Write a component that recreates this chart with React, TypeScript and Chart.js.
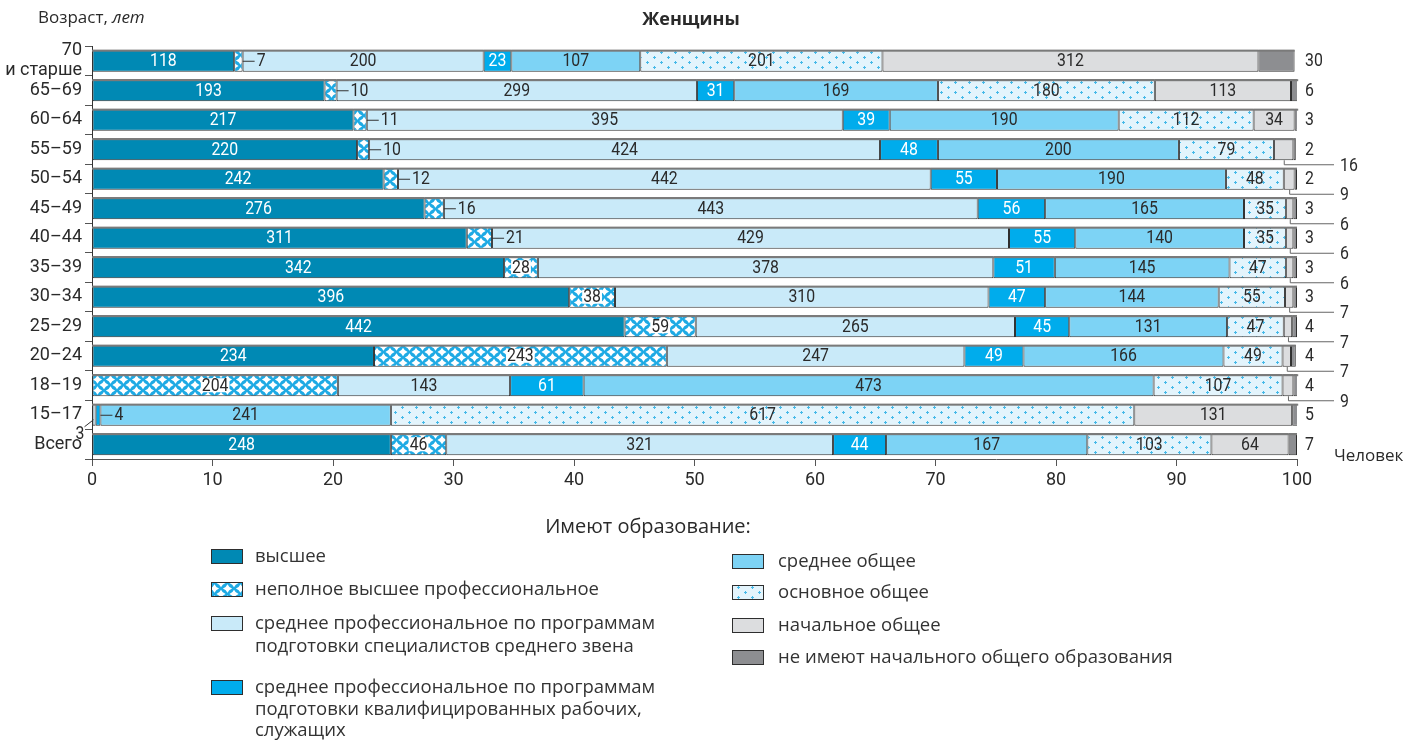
import React, { useEffect, useRef } from "react";
import { Chart, registerables } from "chart.js";
Chart.register(...registerables);

// ---- DATA (per 1000 women) ----
const ageGroups: (string | string[])[] = [
  ["70", "и старше"], "65–69", "60–64", "55–59", "50–54", "45–49", "40–44",
  "35–39", "30–34", "25–29", "20–24", "18–19", "15–17", "Всего",
];
const higher = [118, 193, 217, 220, 242, 276, 311, 342, 396, 442, 234, 0, 0, 248];
const incompleteHigher = [7, 10, 11, 10, 12, 16, 21, 28, 38, 59, 243, 204, 0, 46];
const midSpecialists = [200, 299, 395, 424, 442, 443, 429, 378, 310, 265, 247, 143, 3, 321];
const midWorkers = [23, 31, 39, 48, 55, 56, 55, 51, 47, 45, 49, 61, 4, 44];
const secondaryGeneral = [107, 169, 190, 200, 190, 165, 140, 145, 144, 131, 166, 473, 241, 167];
const basicGeneral = [201, 180, 112, 79, 48, 35, 35, 47, 55, 47, 49, 107, 617, 103];
const primaryGeneral = [312, 113, 34, 16, 9, 6, 6, 6, 7, 7, 7, 9, 131, 64];
const noEducation = [30, 6, 3, 2, 2, 3, 3, 3, 3, 4, 4, 4, 5, 7];
const xTickValues = [0, 10, 20, 30, 40, 50, 60, 70, 80, 90, 100];

const seriesNames: string[][] = [
  ["высшее"],
  ["неполное высшее профессиональное"],
  ["среднее профессиональное по программам", "подготовки специалистов среднего звена"],
  ["среднее профессиональное по программам", "подготовки квалифицированных рабочих,", "служащих"],
  ["среднее общее"],
  ["основное общее"],
  ["начальное общее"],
  ["не имеют начального общего образования"],
];
const allSeries = [higher, incompleteHigher, midSpecialists, midWorkers, secondaryGeneral, basicGeneral, primaryGeneral, noEducation];

const NARROW = 'Roboto, "Liberation Sans", sans-serif';
const HUMAN = '"Open Sans", "Noto Sans", sans-serif';
const TEXT = "#2a2a2a";
const BORDER = "#2e2e2e";
const SQUEEZE = 0.88;

function makeCross(): CanvasPattern | string {
  const c = document.createElement("canvas");
  c.width = 13; c.height = 11;
  const g = c.getContext("2d");
  if (!g) return "#8fd3f2";
  g.fillStyle = "#1eaae4";
  g.fillRect(0, 0, 13, 11);
  g.fillStyle = "#ffffff";
  const blob = (x: number, y: number) => {
    g.beginPath();
    g.moveTo(x, y - 4.2);
    g.quadraticCurveTo(x + 1.2, y - 1.2, x + 4.6, y);
    g.quadraticCurveTo(x + 1.2, y + 1.2, x, y + 4.2);
    g.quadraticCurveTo(x - 1.2, y + 1.2, x - 4.6, y);
    g.quadraticCurveTo(x - 1.2, y - 1.2, x, y - 4.2);
    g.fill();
  };
  blob(6.5, 5.5);
  blob(0, 0); blob(13, 0); blob(0, 11); blob(13, 11);
  return g.createPattern(c, "repeat") || "#8fd3f2";
}
function makeDots(): CanvasPattern | string {
  const c = document.createElement("canvas");
  c.width = 14; c.height = 10;
  const g = c.getContext("2d");
  if (!g) return "#e2f4fc";
  g.fillStyle = "#e3f4fc";
  g.fillRect(0, 0, 14, 10);
  g.fillStyle = "#45b9e8";
  const plus = (x: number, y: number) => {
    g.fillRect(x - 1, y, 3, 1);
    g.fillRect(x, y - 1, 1, 3);
  };
  plus(3, 2);
  plus(10, 7);
  return g.createPattern(c, "repeat") || "#e2f4fc";
}

export default function App() {
  const ref = useRef<HTMLCanvasElement | null>(null);
  useEffect(() => {
    document.body.style.margin = "0";
    const canvas = ref.current;
    if (!canvas) return;
    const cross = makeCross();
    const dots = makeDots();
    const fills: (string | CanvasPattern)[] = ["#0089b4", cross, "#c9eaf9", "#00acec", "#7dd3f5", dots, "#dcdddf", "#8d8e91"];

    const squeezed = (ctx: CanvasRenderingContext2D, txt: string, x: number, y: number, align: "left" | "right" | "center") => {
      ctx.save();
      ctx.translate(x, y);
      ctx.scale(SQUEEZE, 1);
      ctx.textAlign = align;
      ctx.fillText(txt, 0, 0);
      ctx.restore();
    };

    const labelPlugin = {
      id: "segLabels",
      afterDatasetsDraw(chart: any) {
        const ctx = chart.ctx as CanvasRenderingContext2D;
        const area = chart.chartArea;
        ctx.save();
        ctx.textBaseline = "middle";
        // gray top edge of every bar
        const firstMeta = chart.getDatasetMeta(0);
        firstMeta.data.forEach((bar: any, i: number) => {
          const p = bar.getProps(["y", "height"], true);
          const total = allSeries.reduce((s, arr) => s + arr[i], 0) / 10;
          const xr = chart.scales.x.getPixelForValue(total);
          ctx.fillStyle = "#7a7a7a";
          ctx.fillRect(area.left, p.y - p.height / 2, xr - area.left, 2);
        });
        allSeries.forEach((series, di) => {
          const meta = chart.getDatasetMeta(di);
          meta.data.forEach((bar: any, i: number) => {
            const v = series[i];
            if (!v) return;
            const p = bar.getProps(["x", "y", "base"], true);
            const left = Math.min(p.base, p.x);
            const right = Math.max(p.base, p.x);
            const cx = (left + right) / 2;
            const y = p.y;
            const txt = String(v);
            ctx.strokeStyle = "#333";
            ctx.lineWidth = 1;
            ctx.font = `18px ${NARROW}`;
            if (di === 7) {
              ctx.fillStyle = TEXT;
              squeezed(ctx, txt, area.right + 8, y + 1, "left");
              return;
            }
            if (di === 6 && v < 25) {
              ctx.beginPath();
              ctx.moveTo(cx + 0.5, y + 11);
              ctx.lineTo(cx + 0.5, y + 15.5);
              ctx.lineTo(area.right + 37, y + 15.5);
              ctx.strokeStyle = "#666";
              ctx.stroke();
              ctx.fillStyle = TEXT;
              squeezed(ctx, txt, area.right + 43, y + 17, "left");
              return;
            }
            if ((di === 1 && v < 25) || (di === 3 && v < 10)) {
              ctx.beginPath();
              ctx.moveTo(right, y + 0.5);
              ctx.lineTo(right + 12, y + 0.5);
              ctx.stroke();
              ctx.fillStyle = TEXT;
              squeezed(ctx, txt, right + 14, y + 1, "left");
              return;
            }
            if (di === 2 && v < 25) {
              ctx.beginPath();
              ctx.moveTo(left + 1, y + 5);
              ctx.lineTo(left - 8, y + 12);
              ctx.stroke();
              ctx.fillStyle = TEXT;
              squeezed(ctx, txt, left - 8, y + 20, "right");
              return;
            }
            if (di === 1) {
              const w = ctx.measureText(txt).width * SQUEEZE;
              ctx.fillStyle = "#ffffff";
              ctx.fillRect(cx - w / 2 - 1, y - 7, w + 2, 14);
            }
            ctx.fillStyle = di === 0 || di === 3 ? "#ffffff" : TEXT;
            squeezed(ctx, txt, cx, y + 1, "center");
          });
        });
        ctx.restore();
      },
    };

    const decorPlugin = {
      id: "decor",
      afterDraw(chart: any) {
        const ctx = chart.ctx as CanvasRenderingContext2D;
        ctx.save();
        ctx.textBaseline = "middle";
        ctx.fillStyle = TEXT;
        ctx.textAlign = "center";
        ctx.font = `bold 18px ${HUMAN}`;
        ctx.fillText("Женщины", 691, 20);
        ctx.textAlign = "left";
        ctx.font = `17px ${HUMAN}`;
        const a = "Возраст, ";
        ctx.fillText(a, 38, 18);
        const aw = ctx.measureText(a).width;
        ctx.font = `italic 17px ${HUMAN}`;
        ctx.fillText("лет", 38 + aw, 18);
        ctx.font = `17px ${HUMAN}`;
        ctx.fillText("Человек", 1334, 456);
        ctx.textAlign = "center";
        ctx.font = `20px ${HUMAN}`;
        ctx.fillText("Имеют образование:", 648, 527);
        ctx.textAlign = "left";
        ctx.font = `18.5px ${HUMAN}`;
        const items = [
          { i: 0, sx: 211, tx: 255, ys: [557] },
          { i: 1, sx: 211, tx: 255, ys: [590] },
          { i: 2, sx: 211, tx: 255, ys: [624, 647] },
          { i: 3, sx: 211, tx: 255, ys: [688, 710, 731] },
          { i: 4, sx: 732, tx: 778, ys: [562] },
          { i: 5, sx: 732, tx: 778, ys: [593] },
          { i: 6, sx: 732, tx: 778, ys: [626] },
          { i: 7, sx: 732, tx: 778, ys: [658] },
        ];
        items.forEach((it) => {
          const sy = it.ys[0] - 8;
          ctx.fillStyle = fills[it.i] as any;
          ctx.fillRect(it.sx, sy, 31, 14);
          ctx.strokeStyle = BORDER;
          ctx.lineWidth = 1;
          ctx.strokeRect(it.sx + 0.5, sy + 0.5, 31, 14);
          ctx.fillStyle = "#333";
          seriesNames[it.i].forEach((line, k) => ctx.fillText(line, it.tx, it.ys[k]));
        });
        ctx.restore();
      },
    };

    const chart = new Chart(canvas, {
      type: "bar",
      data: {
        labels: ageGroups as any,
        datasets: allSeries.map((s, di) => ({
          label: seriesNames[di].join(" "),
          data: s.map((v) => v / 10),
          backgroundColor: fills[di] as any,
          borderColor: BORDER,
          borderWidth: 1,
          borderSkipped: false,
          barPercentage: 0.75,
          categoryPercentage: 1,
        })),
      },
      options: {
        indexAxis: "y",
        responsive: false,
        animation: false,
        devicePixelRatio: 1,
        layout: { padding: { left: 0, right: 107, top: 46, bottom: 252 } },
        plugins: { legend: { display: false }, tooltip: { enabled: false } },
        scales: {
          x: {
            stacked: true,
            min: 0,
            max: 100,
            afterBuildTicks: (scale: any) => {
              scale.ticks = xTickValues.map((v) => ({ value: v }));
            },
            afterFit: (scale: any) => { scale.height = 30; },
            grid: { drawOnChartArea: false, drawTicks: true, tickLength: 7, color: "#555" },
            border: { display: true, color: "#555", width: 1 },
            ticks: { color: TEXT, font: { family: NARROW, size: 18 }, padding: 4, maxRotation: 0 },
          },
          y: {
            stacked: true,
            afterFit: (scale: any) => { scale.width = 92; },
            grid: { offset: true, drawOnChartArea: false, drawTicks: true, tickLength: 7, color: "#555" },
            border: { display: true, color: "#333", width: 1 },
            ticks: { color: TEXT, font: { family: NARROW, size: 18, lineHeight: 1.1 }, padding: 3, autoSkip: false },
          },
        },
      },
      plugins: [labelPlugin, decorPlugin],
    } as any);
    return () => chart.destroy();
  }, []);
  return <canvas ref={ref} width={1404} height={741} style={{ display: "block" }} />;
}
